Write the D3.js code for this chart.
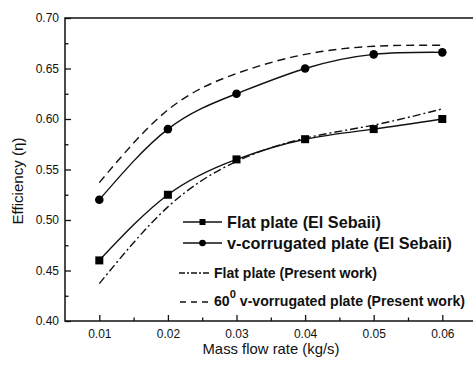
<!DOCTYPE html>
<html lang="en">
  <head>
    <meta charset="UTF-8" />
    <title>Efficiency vs mass flow rate</title>
    <script src="https://d3js.org/d3.v7.min.js" charset="utf-8"></script>
    <style>
      body { margin: 0; background: #fff; }
      text { font-family: "Liberation Sans", Arial, sans-serif; fill: #111; }
    </style>
  </head>
  <body>
    <div id="chart"></div>
    <script>
      // data
      const flowRates = [0.01, 0.02, 0.03, 0.04, 0.05, 0.06];
      const flatSebaii = [0.46, 0.525, 0.56, 0.58, 0.59, 0.6];
      const vcorrSebaii = [0.52, 0.59, 0.625, 0.65, 0.664, 0.666];
      const flatPresent = [0.437, 0.513, 0.558, 0.581, 0.594, 0.61];
      const vcorrPresent = [0.537, 0.609, 0.645, 0.664, 0.672, 0.673];
      const xTicks = [0.01, 0.02, 0.03, 0.04, 0.05, 0.06];
      const yTicks = [0.4, 0.45, 0.5, 0.55, 0.6, 0.65, 0.7];

      const width = 473;
      const height = 365;
      const plotLeft = 65, plotTop = 18, plotBottom = 321;

      const x = d3.scaleLinear().domain([0.005, 0.065]).range([plotLeft, plotLeft + 411.6]);
      const y = d3.scaleLinear().domain([0.4, 0.7]).range([plotBottom, plotTop]);

      const svg = d3
        .select("#chart")
        .append("svg")
        .attr("width", width)
        .attr("height", height);

      // frame (right edge falls outside the picture)
      svg.append("rect")
        .attr("x", x(0.005))
        .attr("y", y(0.7))
        .attr("width", x(0.065) - x(0.005))
        .attr("height", y(0.4) - y(0.7))
        .attr("fill", "none")
        .attr("stroke", "#111")
        .attr("stroke-width", 1.5);

      // axes with inward ticks
      const xAxis = d3.axisBottom(x).tickValues(xTicks).tickSize(-6).tickPadding(8)
        .tickFormat(d3.format(".2f"));
      const xMinor = d3.axisBottom(x).tickValues(d3.range(0.015, 0.065, 0.01)).tickSize(-3.5).tickFormat("");
      const yAxis = d3.axisLeft(y).tickValues(yTicks).tickSize(-6).tickPadding(6)
        .tickFormat(d3.format(".2f"));
      const yMinor = d3.axisLeft(y).tickValues(d3.range(0.425, 0.7, 0.05)).tickSize(-3.5).tickFormat("");

      [
        [xAxis, "translate(0," + plotBottom + ")"],
        [xMinor, "translate(0," + plotBottom + ")"],
        [yAxis, "translate(" + plotLeft + ",0)"],
        [yMinor, "translate(" + plotLeft + ",0)"]
      ].forEach(([ax, tr]) => {
        const g = svg.append("g").attr("transform", tr).call(ax);
        g.select(".domain").remove();
        g.selectAll("line").attr("stroke", "#111").attr("stroke-width", 1.3);
        g.selectAll("text").attr("font-size", 12).attr("fill", "#111");
      });

      svg.append("text")
        .attr("x", 271)
        .attr("y", 354)
        .attr("text-anchor", "middle")
        .attr("font-size", 15)
        .attr("textLength", 137)
        .attr("lengthAdjust", "spacingAndGlyphs")
        .text("Mass flow rate (kg/s)");

      svg.append("text")
        .attr("transform", "translate(23,181) rotate(-90)")
        .attr("text-anchor", "middle")
        .attr("font-size", 15)
        .attr("textLength", 87)
        .attr("lengthAdjust", "spacingAndGlyphs")
        .text("Efficiency (η)");

      const line = d3.line()
        .x((d, i) => x(flowRates[i]))
        .y(d => y(d))
        .curve(d3.curveNatural);

      const series = [
        { values: vcorrPresent, dash: "8,5" },
        { values: flatPresent, dash: "8,3,2,3" },
        { values: flatSebaii, dash: null },
        { values: vcorrSebaii, dash: null }
      ];

      svg.selectAll("path.series")
        .data(series)
        .enter()
        .append("path")
        .attr("class", "series")
        .attr("d", d => line(d.values))
        .attr("fill", "none")
        .attr("stroke", "#111")
        .attr("stroke-width", 1.4)
        .attr("stroke-dasharray", d => d.dash);

      svg.selectAll("rect.sq")
        .data(flatSebaii)
        .enter()
        .append("rect")
        .attr("class", "sq")
        .attr("x", (d, i) => x(flowRates[i]) - 4)
        .attr("y", d => y(d) - 4)
        .attr("width", 8)
        .attr("height", 8)
        .attr("fill", "#000");

      svg.selectAll("circle.dot")
        .data(vcorrSebaii)
        .enter()
        .append("circle")
        .attr("class", "dot")
        .attr("cx", (d, i) => x(flowRates[i]))
        .attr("cy", d => y(d))
        .attr("r", 4.3)
        .attr("fill", "#000");

      // legend
      const legend = [
        { label: "Flat plate (El Sebaii)", mark: "square", dash: null, x1: 183, x2: 222, ly: 222, tx: 227, ty: 228, size: 17, len: 154 },
        { label: "v-corrugated plate (El Sebaii)", mark: "circle", dash: null, x1: 183, x2: 222, ly: 243, tx: 227, ty: 249, size: 17, len: 225 },
        { label: "Flat plate (Present work)", mark: null, dash: "6,2,2,2", x1: 179, x2: 211, ly: 273, tx: 214, ty: 278, size: 14, len: 163 },
        { label: null, mark: null, dash: "6,5", x1: 180, x2: 211, ly: 302, tx: 214, ty: 306, size: 14, len: 251 }
      ];

      const lg = svg.append("g");
      legend.forEach(d => {
        lg.append("line")
          .attr("x1", d.x1).attr("x2", d.x2)
          .attr("y1", d.ly).attr("y2", d.ly)
          .attr("stroke", "#111")
          .attr("stroke-width", 1.3)
          .attr("stroke-dasharray", d.dash);
        if (d.mark === "square") {
          lg.append("rect").attr("x", (d.x1 + d.x2) / 2 - 3).attr("y", d.ly - 3)
            .attr("width", 6).attr("height", 6).attr("fill", "#000");
        } else if (d.mark === "circle") {
          lg.append("circle").attr("cx", (d.x1 + d.x2) / 2).attr("cy", d.ly)
            .attr("r", 3.3).attr("fill", "#000");
        }
        const t = lg.append("text")
          .attr("x", d.tx).attr("y", d.ty)
          .attr("font-size", d.size)
          .attr("font-weight", "bold")
          .attr("textLength", d.len)
          .attr("lengthAdjust", "spacingAndGlyphs");
        if (d.label) {
          t.text(d.label);
        } else {
          t.append("tspan").text("60");
          t.append("tspan").attr("dy", -8).attr("font-size", 11).text("0");
          t.append("tspan").attr("dy", 8).text(" v-vorrugated plate (Present work)");
        }
      });
    </script>
  </body>
</html>
